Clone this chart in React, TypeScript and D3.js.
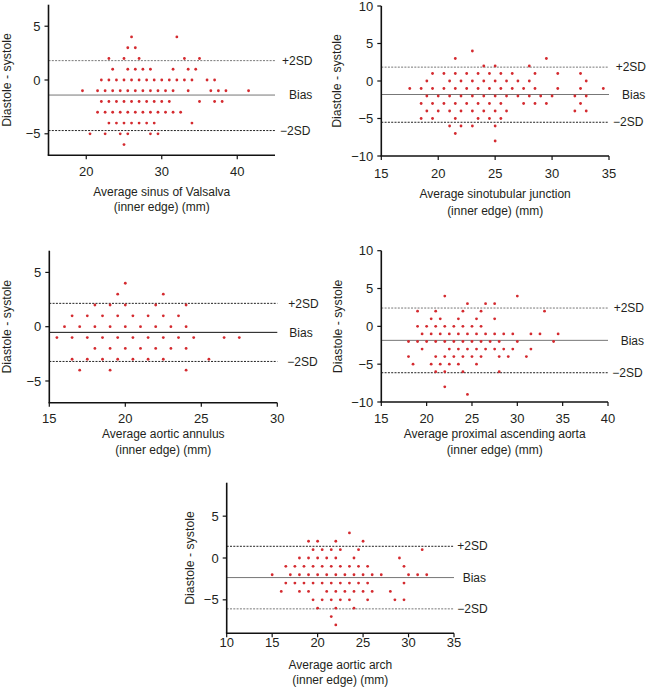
import React from "react";
import * as d3 from "d3";

// ---------- Data ----------
// Panel 1: sinus of Valsalva
const sinusDiffs = [4, 3, 2, 1, 0, -1, -2, -3, -4, -5, -6];
const sinusAvgs = [
  [26, 32],
  [25.5, 26.5],
  [23, 25, 27, 33, 35],
  [23.5, 25.5, 26.5, 27.5, 28.5, 31.5, 33.5, 34.5],
  [22, 23, 24, 25, 26, 27, 28, 29, 30, 31, 32, 33, 34, 36, 37],
  [19.5, 21.5, 22.5, 23.5, 24.5, 25.5, 26.5, 27.5, 28.5, 29.5, 30.5, 31.5, 33.5, 36.5, 37.5, 38.5, 41.5],
  [22, 23, 24, 25, 26, 27, 28, 29, 30, 31, 35, 37, 38],
  [21.5, 22.5, 23.5, 24.5, 25.5, 26.5, 27.5, 28.5, 29.5, 30.5, 31.5, 32.5],
  [23, 24, 25, 26, 27, 28, 29, 34],
  [20.5, 22.5, 24.5, 25.5, 28.5, 29.5],
  [25],
];
const sinusLimits = [1.8, -1.4, -4.7];

// Panel 2: sinotubular junction
const stjDiffs = [4, 3, 2, 1, 0, -1, -2, -3, -4, -5, -6, -7, -8];
const stjAvgs = [
  [23],
  [21.5, 29.5],
  [24, 25, 28],
  [19.5, 20.5, 21.5, 22.5, 23.5, 24.5, 25.5, 26.5, 28.5, 30.5, 32.5],
  [19, 21, 22, 23, 24, 25, 26, 27, 28, 33],
  [17.5, 18.5, 19.5, 20.5, 21.5, 22.5, 23.5, 24.5, 25.5, 26.5, 27.5, 28.5, 30.5, 32.5, 34.5],
  [19, 20, 21, 22, 23, 24, 25, 26, 27, 28, 29, 30, 32, 33],
  [18.5, 19.5, 20.5, 21.5, 22.5, 23.5, 24.5, 25.5, 27.5, 28.5, 29.5, 32.5],
  [19, 20, 21, 22, 23, 24, 25, 26, 32, 33],
  [18.5, 19.5, 21.5, 23.5, 24.5, 25.5],
  [21, 22, 23, 25],
  [21.5],
  [25],
];
const stjLimits = [1.85, -1.8, -5.5];

// Panel 3: aortic annulus
const annulusDiffs = [4, 3, 2, 1, 0, -1, -2, -3, -4];
const annulusAvgs = [
  [20],
  [19.5, 22.5],
  [18, 19, 20, 22, 24],
  [16.5, 17.5, 18.5, 19.5, 20.5, 21.5, 22.5, 23.5],
  [16, 17, 18, 19, 20, 21, 22, 23, 24],
  [15.5, 16.5, 17.5, 18.5, 19.5, 20.5, 21.5, 22.5, 23.5, 24.5, 26.5, 27.5],
  [18, 19, 20, 21, 22, 23, 24],
  [16.5, 17.5, 18.5, 19.5, 20.5, 21.5, 22.5, 25.5],
  [17, 19, 24],
];
const annulusLimits = [2.15, -0.52, -3.2];

// Panel 4: proximal ascending aorta
const proxDiffs = [4, 3, 2, 1, 0, -1, -2, -3, -4, -5, -6, -8, -9];
const proxAvgs = [
  [22, 30],
  [24.5, 26.5, 27.5],
  [19, 21, 24, 26, 33],
  [20.5, 21.5, 23.5, 25.5, 27.5],
  [19, 20, 21, 22, 23, 24, 25, 26],
  [19.5, 20.5, 21.5, 22.5, 23.5, 24.5, 25.5, 26.5, 27.5, 28.5, 29.5, 31.5, 32.5, 34.5],
  [18, 19, 20, 21, 22, 23, 24, 25, 26, 27, 28, 30, 34],
  [19.5, 22.5, 23.5, 24.5, 25.5, 26.5, 27.5, 28.5, 29.5, 31.5],
  [18, 21, 22, 23, 24, 25, 26, 28, 29, 31],
  [18.5, 20.5, 21.5, 22.5, 23.5, 25.5],
  [21, 22, 24, 28],
  [22],
  [24.5],
];
const proxLimits = [2.42, -1.85, -6.13];

// Panel 5: aortic arch
const archDiffs = [3, 2, 1, 0, -1, -2, -3, -4, -5, -6, -7, -8];
const archAvgs = [
  [23.5],
  [19, 20, 22, 25],
  [19.5, 20.5, 21.5, 22.5, 24.5, 31.5],
  [18, 19, 20, 21, 22, 24, 29],
  [16.5, 17.5, 18.5, 19.5, 20.5, 21.5, 22.5, 23.5, 24.5, 25.5, 29.5],
  [15, 17, 18, 19, 20, 21, 22, 23, 24, 25, 26, 27, 30, 31, 32],
  [16.5, 17.5, 18.5, 19.5, 20.5, 21.5, 22.5, 23.5, 24.5, 25.5, 29.5],
  [16, 18, 19, 21, 22, 23, 24, 25, 26, 28],
  [19.5, 20.5, 21.5, 22.5, 23.5, 25.5, 28.5, 29.5],
  [20, 22, 24],
  [21.5],
  [22],
];
const archLimits = [1.4, -2.34, -6.08];

const limitLabels = ["+2SD", "Bias", "\u22122SD"];
const yTitle = "Diastole - systole";

// ---------- Layout / style ----------
const FONT = "'Liberation Sans', Arial, Helvetica, sans-serif";
const TEXT = "#231f20";
const DOT = "#d42a2f";

const panels = [
  {
    diffs: sinusDiffs, avgs: sinusAvgs, limits: sinusLimits,
    xTitle: ["Average sinus of Valsalva", "(inner edge) (mm)"],
    xDomain: [15, 45], yDomain: [-7, 7],
    xTicks: [20, 30, 40], yTicks: [5, 0, -5],
    left: 48.5, right: 275, top: 4.7, bottom: 155.3,
    xTickY: 171, xTitleY: [192, 207], yTitleX: 7,
    labelX: [282, 289, 280],
    lineColors: ["#777", "#777", "#222"],
  },
  {
    diffs: stjDiffs, avgs: stjAvgs, limits: stjLimits,
    xTitle: ["Average sinotubular junction", "(inner edge) (mm)"],
    xDomain: [15, 35], yDomain: [-10, 10],
    xTicks: [15, 20, 25, 30, 35], yTicks: [10, 5, 0, -5, -10],
    left: 381.3, right: 609, top: 6, bottom: 156,
    xTickY: 173, xTitleY: [194, 211], yTitleX: 336.5,
    labelX: [615.7, 622, 613],
    lineColors: ["#777", "#777", "#222"],
  },
  {
    diffs: annulusDiffs, avgs: annulusAvgs, limits: annulusLimits,
    xTitle: ["Average aortic annulus", "(inner edge) (mm)"],
    xDomain: [15, 30], yDomain: [-7, 7],
    xTicks: [15, 20, 25, 30], yTicks: [5, 0, -5],
    left: 49.3, right: 277.3, top: 250.7, bottom: 402.7,
    xTickY: 418.3, xTitleY: [434, 450], yTitleX: 7,
    labelX: [288.3, 289.3, 287.3],
    lineColors: ["#222", "#111", "#222"],
  },
  {
    diffs: proxDiffs, avgs: proxAvgs, limits: proxLimits,
    xTitle: ["Average proximal ascending aorta", "(inner edge) (mm)"],
    xDomain: [15, 40], yDomain: [-10, 10],
    xTicks: [15, 20, 25, 30, 35, 40], yTicks: [10, 5, 0, -5, -10],
    left: 381.3, right: 608, top: 250.7, bottom: 402,
    xTickY: 418.3, xTitleY: [434, 450], yTitleX: 338,
    labelX: [613.7, 620.7, 612.3],
    lineColors: ["#777", "#777", "#222"],
  },
  {
    diffs: archDiffs, avgs: archAvgs, limits: archLimits,
    xTitle: ["Average aortic arch", "(inner edge) (mm)"],
    xDomain: [10, 35], yDomain: [-9, 9],
    xTicks: [10, 15, 20, 25, 30, 35], yTicks: [5, 0, -5],
    left: 226.7, right: 454, top: 482.7, bottom: 633.3,
    xTickY: 642.7, xTitleY: [665, 680], yTitleX: 190,
    labelX: [457.3, 462.7, 457.3],
    lineColors: ["#222", "#777", "#777"],
  },
];

const fmt = (v: number) => (v < 0 ? "\u2212" + Math.abs(v) : String(v));

function Panel({ p }: { p: any }) {
  const x = d3.scaleLinear().domain(p.xDomain).range([p.left, p.right]);
  const y = d3.scaleLinear().domain(p.yDomain).range([p.bottom, p.top]);
  const pts: [number, number][] = p.diffs.flatMap((d: number, i: number) =>
    p.avgs[i].map((a: number) => [a, d] as [number, number])
  );
  const cy = (p.top + p.bottom) / 2;
  const cx = (p.left + p.right) / 2;
  const tick = 4;
  return (
    <g>
      {p.limits.map((v: number, i: number) => (
        <line
          key={"l" + i}
          x1={x.range()[0]}
          x2={x.range()[1]}
          y1={y(v)}
          y2={y(v)}
          stroke={p.lineColors[i]}
          strokeWidth={1}
          strokeDasharray={i === 1 ? undefined : "2,1.3"}
        />
      ))}
      {p.limits.map((v: number, i: number) => (
        <text key={"t" + i} x={p.labelX[i]} y={y(v)} dy="0.35em" fontSize={12} fill={TEXT}>
          {limitLabels[i]}
        </text>
      ))}
      {pts.map((d, i) => (
        <circle key={"c" + i} cx={x(d[0])} cy={y(d[1])} r={1.4} fill={DOT} />
      ))}
      <line x1={p.left} x2={p.left} y1={p.top} y2={p.bottom} stroke="#111" strokeWidth={1.6} />
      <line x1={p.left - 0.8} x2={p.right} y1={p.bottom} y2={p.bottom} stroke="#111" strokeWidth={1.6} />
      {p.yTicks.map((v: number) => (
        <g key={"yt" + v}>
          <line x1={p.left - tick} x2={p.left} y1={y(v)} y2={y(v)} stroke="#111" strokeWidth={1.2} />
          <text x={p.left - 8} y={y(v)} dy="0.35em" textAnchor="end" fontSize={13} fill={TEXT}>
            {fmt(v)}
          </text>
        </g>
      ))}
      {p.xTicks.map((v: number) => (
        <g key={"xt" + v}>
          <line x1={x(v)} x2={x(v)} y1={p.bottom} y2={p.bottom + tick} stroke="#111" strokeWidth={1.2} />
          <text x={x(v)} y={p.xTickY} dy="0.35em" textAnchor="middle" fontSize={13} fill={TEXT}>
            {fmt(v)}
          </text>
        </g>
      ))}
      {p.xTitle.map((t: string, i: number) => (
        <text key={"xtt" + i} x={cx} y={p.xTitleY[i]} dy="0.35em" textAnchor="middle" fontSize={12} fill={TEXT}>
          {t}
        </text>
      ))}
      <text
        transform={`translate(${p.yTitleX},${cy}) rotate(-90)`}
        dy="0.35em"
        textAnchor="middle"
        fontSize={12.3}
        fill={TEXT}
      >
        {yTitle}
      </text>
    </g>
  );
}

export default function App() {
  return (
    <svg
      width={646}
      height={687}
      viewBox="0 0 646 687"
      style={{ position: "absolute", left: 0, top: 0, background: "#fff" }}
      fontFamily={FONT}
    >
      <rect width={646} height={687} fill="#fff" />
      {panels.map((p, i) => (
        <Panel key={i} p={p} />
      ))}
    </svg>
  );
}
